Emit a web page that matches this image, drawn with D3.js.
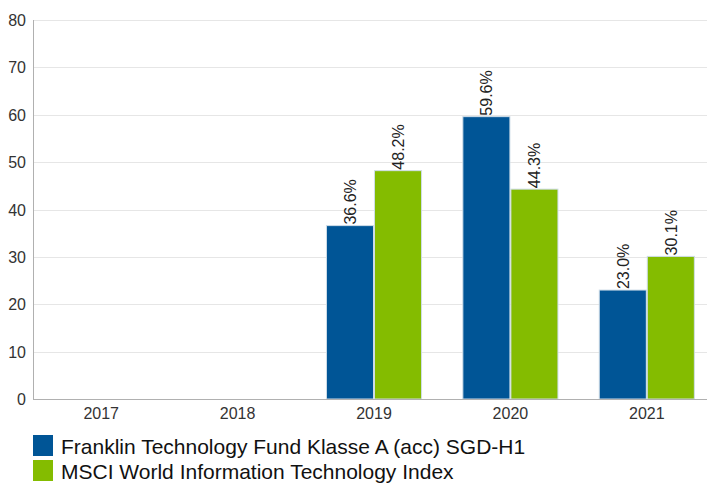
<!DOCTYPE html>
<html>
<head>
<meta charset="utf-8">
<script src="https://cdn.jsdelivr.net/npm/d3@7"></script>
<style>
  body { margin: 0; background: #fff; }
  svg { font-family: "Liberation Sans", Arial, sans-serif; }
</style>
</head>
<body>
<svg id="vis1" width="707" height="486"></svg>
<script>
// chart data
var years = ["2017", "2018", "2019", "2020", "2021"];
var fundValues = [null, null, 36.6, 59.6, 23.0];
var indexValues = [null, null, 48.2, 44.3, 30.1];
var seriesNames = ["Franklin Technology Fund Klasse A (acc) SGD-H1", "MSCI World Information Technology Index"];
var seriesColors = ["#005596", "#84bc00"];
var yTicks = [0, 10, 20, 30, 40, 50, 60, 70, 80];

var svg = d3.select("svg#vis1");

let margin = { top: 20, left: 33, bottom: 399, right: 715 };

let y = d3.scaleLinear()
    .domain([0, 80])
    .range([margin.bottom, margin.top]);

let x = d3.scaleBand()
    .domain(years)
    .range([margin.left, margin.right]);

let inner = d3.scaleBand()
    .domain([0, 1])
    .range([0, x.bandwidth()])
    .paddingOuter(0.43)
    .paddingInner(0.02);

// gridlines
svg.append("g")
    .selectAll("line")
    .data(yTicks.slice(1))
    .enter().append("line")
    .attr("x1", margin.left)
    .attr("x2", 707)
    .attr("y1", d => Math.round(y(d)) + 0.5)
    .attr("y2", d => Math.round(y(d)) + 0.5)
    .attr("stroke", "#e6e6e6");

// y labels
svg.append("g")
    .selectAll("text")
    .data(yTicks)
    .enter().append("text")
    .attr("x", 26)
    .attr("y", d => y(d) + 6)
    .attr("text-anchor", "end")
    .style("font-size", "16px")
    .style("fill", "#333")
    .text(d => d);

// x labels
svg.append("g")
    .selectAll("text")
    .data(years)
    .enter().append("text")
    .attr("x", d => x(d) + x.bandwidth() / 2)
    .attr("y", 419)
    .attr("text-anchor", "middle")
    .style("font-size", "16px")
    .style("fill", "#333")
    .text(d => d);

// bars
var series = [fundValues, indexValues];
series.forEach(function (vals, s) {
    let data = years.map((yr, i) => ({ year: yr, value: vals[i] })).filter(d => d.value !== null);
    let g = svg.append("g");
    g.selectAll("rect")
        .data(data)
        .enter().append("rect")
        .attr("x", d => x(d.year) + inner(s))
        .attr("y", d => y(d.value))
        .attr("width", inner.bandwidth())
        .attr("height", d => y(0) - y(d.value))
        .style("fill", seriesColors[s])
        .style("stroke", "#cfdde8")
        .style("stroke-width", 1);

    g.selectAll("text")
        .data(data)
        .enter().append("text")
        .attr("transform", d => "translate(" + (x(d.year) + inner(s) + inner.bandwidth() / 2 + 6) + "," + (y(d.value) - 1) + ") rotate(-90)")
        .attr("text-anchor", "start")
        .style("font-size", "16px")
        .style("fill", "#222")
        .text(d => d.value.toFixed(1) + "%");
});

// axis lines
svg.append("line")
    .attr("x1", margin.left + 0.5).attr("x2", margin.left + 0.5)
    .attr("y1", margin.top).attr("y2", margin.bottom)
    .attr("stroke", "#b0b0b0");
svg.append("line")
    .attr("x1", margin.left).attr("x2", 707)
    .attr("y1", margin.bottom + 0.5).attr("y2", margin.bottom + 0.5)
    .attr("stroke", "#b0b0b0");

// legend
seriesNames.forEach(function (name, i) {
    svg.append("rect")
        .attr("x", 33)
        .attr("y", 435 + i * 25)
        .attr("width", 20)
        .attr("height", 21)
        .style("fill", seriesColors[i]);
    svg.append("text")
        .attr("x", 61)
        .attr("y", 454 + i * 25)
        .style("font-size", "21px")
        .style("fill", "#111")
        .text(name);
});
</script>
</body>
</html>
